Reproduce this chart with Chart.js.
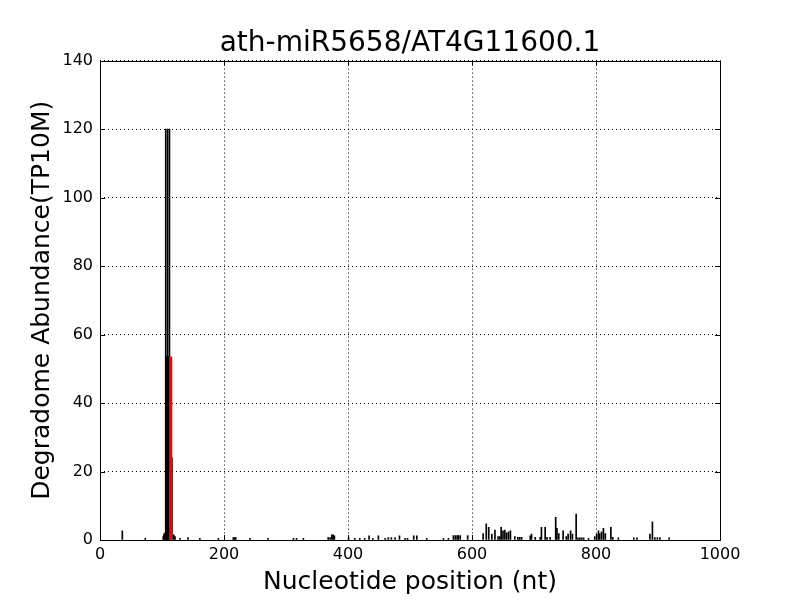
<!DOCTYPE html>
<html lang="en">
<head>
  <meta charset="UTF-8">
  <title>ath-miR5658/AT4G11600.1</title>
  <script src="https://cdn.jsdelivr.net/npm/chart.js"></script>
  <style>
    html, body { margin: 0; padding: 0; background: #fff; }
    #wrap { width: 800px; height: 600px; }
  </style>
</head>
<body>
  <div id="wrap"><canvas id="chart" width="800" height="600"></canvas></div>

  <script>
    // degradome reads (black) by nucleotide position
    const positions = [36, 73, 102, 103, 104, 105, 106, 107, 108, 109, 110, 111, 112, 116, 119, 121, 129, 142, 161, 191,
      215, 217, 219, 242, 271, 312, 317, 328, 368, 371, 374, 376, 378, 401, 411, 419, 427, 434, 440, 449,
      460, 465, 470, 476, 483, 492, 496, 506, 511, 527, 554, 562, 570, 573, 576, 578, 581, 593,
      618, 623, 627, 632, 637, 642, 645, 647, 650, 653, 656, 659, 662, 669, 674, 677, 680, 694, 696, 702,
      710, 712, 718, 721, 726, 735, 737, 740, 747, 752, 755, 759, 762, 768, 771, 774, 777, 780, 788,
      798, 801, 804, 806, 809, 812, 815, 824, 827, 836, 861, 866, 887, 891, 895, 899, 903, 918];
    const abundance = [2.7, 0.5, 1, 1.5, 2, 1.2, 120, 53.5, 53.5, 120, 53.5, 53.5, 120, 24, 1.5, 1, 0.5, 0.7, 0.5, 0.5,
      0.7, 0.7, 0.7, 0.5, 0.5, 0.5, 0.5, 0.5, 0.7, 0.7, 1.5, 1.5, 1.2, 0.6, 0.5, 0.5, 0.5, 1.2, 0.5, 1.2,
      0.5, 0.7, 0.7, 0.7, 1.2, 0.5, 0.5, 1.2, 1.2, 0.5, 0.5, 0.5, 1.3, 1.3, 1.3, 1.3, 1.3, 1.3,
      1.9, 4.7, 3.7, 1.7, 2.9, 1, 1, 3.7, 2.7, 2.9, 2.1, 2.4, 2.7, 1, 0.8, 0.8, 0.8, 1.2, 1.7, 0.8,
      0.8, 3.7, 3.7, 0.8, 0.8, 6.6, 3.4, 1.9, 2.7, 1, 1.7, 2.7, 1.7, 7.6, 0.6, 0.6, 0.6, 0.6, 0.5,
      1, 1.7, 2.7, 1.9, 2.4, 3.4, 1.9, 3.7, 0.8, 0.6, 0.6, 0.6, 1.7, 5.3, 0.7, 0.7, 0.7, 0.6];

    // predicted cleavage site (red)
    const sitePositions = [114];
    const siteAbundance = [53.5];

    const xTicks = [0, 200, 400, 600, 800, 1000];
    const yTicks = [0, 20, 40, 60, 80, 100, 120, 140];

    const toPoints = (xs, ys) => xs.map((x, i) => ({ x: x, y: ys[i] }));

    // matplotlib-classic frame with inward ticks on all four sides
    const framePlugin = {
      id: 'frame',
      afterDatasetsDraw(chart) {
        const { ctx, chartArea: a, scales } = chart;
        const len = 5;
        ctx.save();
        ctx.strokeStyle = '#000';
        ctx.lineWidth = 1;
        ctx.beginPath();
        xTicks.forEach(v => {
          const px = Math.round(scales.x.getPixelForValue(v)) + 0.5;
          ctx.moveTo(px, a.bottom); ctx.lineTo(px, a.bottom - len);
          ctx.moveTo(px, a.top); ctx.lineTo(px, a.top + len);
        });
        yTicks.forEach(v => {
          const py = Math.round(scales.y.getPixelForValue(v)) + 0.5;
          ctx.moveTo(a.left, py); ctx.lineTo(a.left + len, py);
          ctx.moveTo(a.right, py); ctx.lineTo(a.right - len, py);
        });
        ctx.stroke();
        ctx.strokeRect(Math.round(a.left) + 0.5, Math.round(a.top) + 0.5,
          Math.round(a.right - a.left), Math.round(a.bottom - a.top));
        ctx.restore();
      }
    };

    Chart.defaults.font.family = '"DejaVu Sans", sans-serif';
    Chart.defaults.color = '#000';

    new Chart(document.getElementById('chart'), {
      type: 'bar',
      data: {
        datasets: [
          {
            data: toPoints(positions, abundance),
            backgroundColor: '#000',
            borderWidth: 0,
            barThickness: 1,
            grouped: false,
            order: 2
          },
          {
            data: toPoints(sitePositions, siteAbundance),
            backgroundColor: '#ff0000',
            borderWidth: 0,
            barThickness: 2.5,
            grouped: false,
            order: 1
          }
        ]
      },
      options: {
        responsive: false,
        animation: false,
        layout: { padding: { left: 0, right: 80, top: 0, bottom: 0 } },
        plugins: {
          legend: { display: false },
          tooltip: { enabled: false },
          title: {
            display: true,
            fullSize: false,
            text: 'ath-miR5658/AT4G11600.1',
            font: { size: 28, weight: 'normal' },
            padding: { top: 27, bottom: 0 }
          }
        },
        scales: {
          x: {
            type: 'linear',
            offset: false,
            min: 0,
            max: 1000,
            afterBuildTicks: s => { s.ticks = xTicks.map(v => ({ value: v })); },
            afterFit: s => { s.height = 60; },
            ticks: { font: { size: 16 }, padding: 5, maxRotation: 0, callback: v => String(v) },
            grid: { color: '#000', lineWidth: 1, drawTicks: false, offset: false },
            border: { display: false, dash: [1, 3] },
            title: {
              display: true,
              text: 'Nucleotide position (nt)',
              font: { size: 25 },
              padding: { top: 0, bottom: 3 }
            }
          },
          y: {
            min: 0,
            max: 140,
            afterBuildTicks: s => { s.ticks = yTicks.map(v => ({ value: v })); },
            afterFit: s => { s.width = 100; },
            ticks: { font: { size: 16 }, padding: 7, callback: v => String(v) },
            grid: { color: '#000', lineWidth: 1, drawTicks: false },
            border: { display: false, dash: [1, 3] },
            title: {
              display: true,
              text: 'Degradome Abundance(TP10M)',
              font: { size: 25 },
              padding: { top: 27, bottom: 0 }
            }
          }
        }
      },
      plugins: [framePlugin]
    });
  </script>
</body>
</html>
